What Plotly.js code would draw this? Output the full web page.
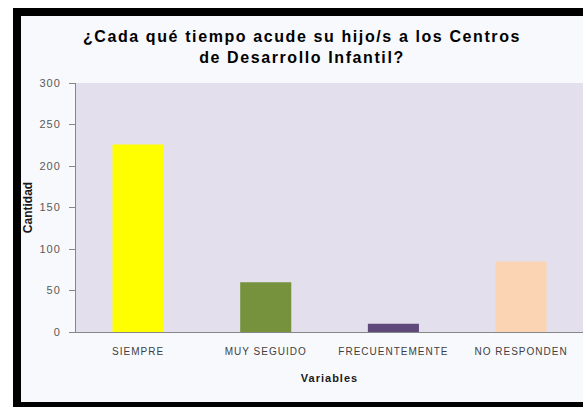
<!DOCTYPE html>
<html>
<head>
<meta charset="utf-8">
<script src="https://cdn.plot.ly/plotly-3.0.1.min.js"></script>
<style>
  html, body { margin: 0; padding: 0; background: #ffffff; overflow: hidden; }
  #chart { width: 583px; height: 407px; }
  .xtick text, .ytick text { letter-spacing: 1px; }
  .gtitle { letter-spacing: 1.6px; }
  .g-xtitle text { letter-spacing: 1px; }
</style>
</head>
<body>
<div id="chart"></div>
<script>
// Data
const categories = ["SIEMPRE", "MUY SEGUIDO", "FRECUENTEMENTE", "NO RESPONDEN"];
const values = [226, 60, 10, 85];
const barColors = ["#ffff00", "#76923c", "#5f497a", "#fbd4b4"];
const yTickValues = [0, 50, 100, 150, 200, 250, 300];

const chartTitle = "¿Cada qué tiempo acude su hijo/s a los Centros<br>de Desarrollo Infantil?";
const xTitle = "Variables";
const yTitle = "Cantidad";

const FONT = "Liberation Sans, Arial, sans-serif";

const trace = {
  type: "bar",
  x: categories,
  y: values,
  width: 0.4,
  marker: { color: barColors, line: { width: 0 } },
  hoverinfo: "x+y"
};

const layout = {
  width: 583,
  height: 407,
  margin: { l: 76, r: 0, t: 83, b: 75, pad: 0 },
  paper_bgcolor: "#ffffff",
  plot_bgcolor: "rgba(0,0,0,0)",
  showlegend: false,
  font: { family: FONT, color: "#595959" },
  title: {
    text: chartTitle,
    font: { family: FONT, size: 16, color: "#000000", weight: "bold" },
    x: 0.518,
    xanchor: "center",
    xref: "container",
    yref: "container",
    y: 1 - 42 / 407,
    yanchor: "top"
  },
  xaxis: {
    type: "category",
    range: [-0.486, 3.485],
    showgrid: false,
    zeroline: false,
    showline: true,
    linecolor: "#868686",
    linewidth: 1,
    ticks: "",
    ticklabelstandoff: 10,
    tickfont: { family: FONT, size: 10, color: "#404040" },
    title: {
      text: xTitle,
      font: { family: FONT, size: 11, color: "#1a1a1a", weight: "bold" },
      standoff: 18
    },
    fixedrange: true
  },
  yaxis: {
    range: [0, 300],
    tickvals: yTickValues,
    showgrid: false,
    zeroline: false,
    showline: true,
    linecolor: "#868686",
    linewidth: 1,
    ticks: "outside",
    ticklen: 6,
    tickcolor: "#868686",
    ticklabelstandoff: 6,
    tickfont: { family: FONT, size: 11, color: "#595959" },
    title: {
      text: yTitle,
      font: { family: FONT, size: 12, color: "#1a1a1a", weight: "bold" },
      standoff: 4
    },
    fixedrange: true
  },
  shapes: [
    {
      type: "rect", xref: "paper", yref: "paper", layer: "below",
      x0: (17 - 76) / 507, x1: 1.06,
      y0: (332 - 406) / 249, y1: (332 - 12) / 249,
      fillcolor: "#f8f9fd",
      line: { color: "#000000", width: 8 }
    },
    {
      type: "rect", xref: "paper", yref: "paper", layer: "below",
      x0: 0, x1: 1, y0: 0, y1: 1,
      fillcolor: "#e4dfec",
      line: { width: 0 }
    }
  ]
};

Plotly.newPlot("chart", [trace], layout, { displayModeBar: false, staticPlot: true });
</script>
</body>
</html>
